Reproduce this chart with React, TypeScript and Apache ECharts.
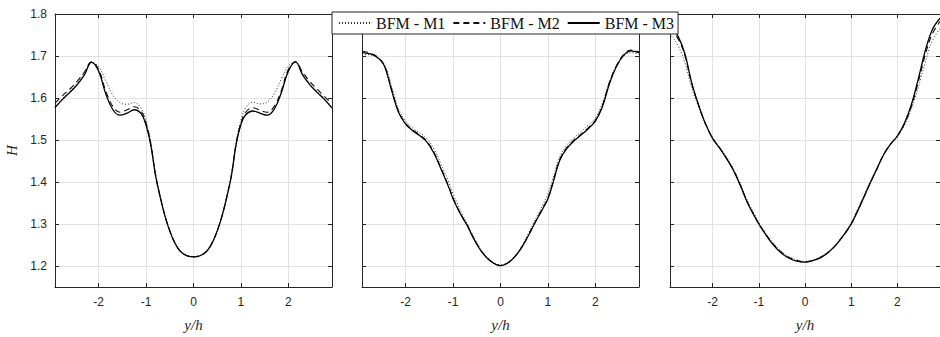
import React, { useEffect, useRef } from "react";
import * as echarts from "echarts";

// Positions along y/h (shared by all three panels)
const X = [-2.92, -2.75, -2.6, -2.45, -2.3, -2.15, -2.0, -1.85, -1.7, -1.55, -1.4, -1.25, -1.1, -1.0, -0.9, -0.8, -0.7, -0.6, -0.5, -0.4, -0.3, -0.2, -0.1, 0,
  0.1, 0.2, 0.3, 0.4, 0.5, 0.6, 0.7, 0.8, 0.9, 1.0, 1.1, 1.25, 1.4, 1.55, 1.7, 1.85, 2.0, 2.15, 2.3, 2.45, 2.6, 2.75, 2.92];

const LEGEND_NAMES = ["BFM - M1", "BFM - M2", "BFM - M3"];

// Panel 1
const P1_M1 = [1.58, 1.6, 1.618, 1.636, 1.66, 1.685, 1.675, 1.641, 1.607, 1.589, 1.585, 1.589, 1.575, 1.545, 1.495, 1.42, 1.366, 1.32, 1.285, 1.258, 1.24, 1.229, 1.224, 1.222,
  1.224, 1.229, 1.24, 1.258, 1.285, 1.32, 1.366, 1.42, 1.497, 1.547, 1.577, 1.59, 1.586, 1.59, 1.61, 1.645, 1.676, 1.685, 1.66, 1.636, 1.618, 1.6, 1.579];
const P1_M2 = [1.588, 1.607, 1.622, 1.64, 1.662, 1.686, 1.668, 1.617, 1.58, 1.566, 1.572, 1.579, 1.568, 1.54, 1.49, 1.417, 1.364, 1.319, 1.284, 1.257, 1.238, 1.228, 1.223, 1.222,
  1.223, 1.228, 1.238, 1.257, 1.284, 1.319, 1.364, 1.417, 1.492, 1.54, 1.566, 1.577, 1.571, 1.566, 1.58, 1.617, 1.668, 1.686, 1.662, 1.64, 1.622, 1.605, 1.587];
const P1_M3 = [1.577, 1.598, 1.614, 1.632, 1.655, 1.685, 1.664, 1.61, 1.572, 1.559, 1.564, 1.572, 1.562, 1.535, 1.488, 1.415, 1.363, 1.318, 1.283, 1.256, 1.238, 1.228, 1.223, 1.222,
  1.223, 1.228, 1.238, 1.256, 1.283, 1.318, 1.363, 1.415, 1.49, 1.537, 1.56, 1.569, 1.564, 1.559, 1.573, 1.612, 1.664, 1.686, 1.655, 1.632, 1.614, 1.598, 1.576];

// Panel 2
const P2_M1 = [1.704, 1.703, 1.696, 1.68, 1.63, 1.575, 1.545, 1.528, 1.517, 1.503, 1.478, 1.442, 1.402, 1.372, 1.346, 1.322, 1.3, 1.278, 1.256, 1.237, 1.223, 1.212, 1.205, 1.203,
  1.205, 1.212, 1.223, 1.238, 1.258, 1.28, 1.303, 1.325, 1.348, 1.372, 1.407, 1.46, 1.488, 1.505, 1.52, 1.535, 1.552, 1.588, 1.64, 1.678, 1.7, 1.708, 1.704];
const P2_M2 = [1.712, 1.707, 1.698, 1.678, 1.622, 1.568, 1.54, 1.524, 1.512, 1.497, 1.47, 1.432, 1.392, 1.362, 1.337, 1.316, 1.297, 1.274, 1.253, 1.235, 1.222, 1.211, 1.204, 1.201,
  1.204, 1.211, 1.222, 1.237, 1.255, 1.276, 1.298, 1.319, 1.34, 1.362, 1.397, 1.454, 1.482, 1.5, 1.514, 1.529, 1.547, 1.583, 1.638, 1.678, 1.704, 1.714, 1.71];
const P2_M3 = [1.708, 1.705, 1.697, 1.677, 1.62, 1.566, 1.538, 1.522, 1.51, 1.495, 1.468, 1.43, 1.39, 1.36, 1.336, 1.315, 1.296, 1.273, 1.252, 1.234, 1.221, 1.211, 1.204, 1.201,
  1.204, 1.211, 1.222, 1.236, 1.254, 1.275, 1.297, 1.318, 1.338, 1.36, 1.395, 1.452, 1.48, 1.498, 1.512, 1.527, 1.545, 1.58, 1.635, 1.676, 1.702, 1.712, 1.708];

// Panel 3
const P3_M1 = [1.752, 1.725, 1.685, 1.624, 1.578, 1.537, 1.506, 1.484, 1.46, 1.432, 1.397, 1.357, 1.325, 1.304, 1.287, 1.27, 1.256, 1.244, 1.234, 1.226, 1.22, 1.215, 1.212, 1.211,
  1.212, 1.215, 1.22, 1.226, 1.234, 1.244, 1.256, 1.27, 1.286, 1.304, 1.326, 1.362, 1.398, 1.432, 1.466, 1.49, 1.508, 1.535, 1.574, 1.625, 1.685, 1.735, 1.765];
const P3_M2 = [1.766, 1.742, 1.702, 1.634, 1.582, 1.538, 1.505, 1.482, 1.457, 1.429, 1.393, 1.353, 1.321, 1.301, 1.284, 1.268, 1.254, 1.242, 1.232, 1.224, 1.218, 1.214, 1.211, 1.21,
  1.211, 1.214, 1.218, 1.224, 1.232, 1.242, 1.254, 1.268, 1.283, 1.3, 1.322, 1.358, 1.395, 1.43, 1.465, 1.49, 1.51, 1.538, 1.58, 1.638, 1.702, 1.752, 1.782];
const P3_M3 = [1.774, 1.748, 1.706, 1.636, 1.583, 1.538, 1.504, 1.481, 1.456, 1.428, 1.392, 1.352, 1.32, 1.3, 1.283, 1.267, 1.252, 1.24, 1.23, 1.222, 1.216, 1.212, 1.21, 1.209,
  1.211, 1.214, 1.218, 1.224, 1.232, 1.242, 1.254, 1.268, 1.283, 1.3, 1.322, 1.358, 1.395, 1.43, 1.465, 1.49, 1.51, 1.54, 1.584, 1.645, 1.712, 1.762, 1.79];

const PANELS = [
  [P1_M1, P1_M2, P1_M3],
  [P2_M1, P2_M2, P2_M3],
  [P3_M1, P3_M2, P3_M3],
];

const X_MIN = -2.92;
const X_MAX = 2.92;
const Y_MIN = 1.15;
const Y_MAX = 1.8;

export default function App() {
  const ref = useRef<HTMLDivElement>(null);
  useEffect(() => {
    const chart = echarts.init(ref.current!, null, { renderer: "svg" });
    const axisColor = "#262626";
    const gridLefts = [55, 362, 670];
    const grids = gridLefts.map((l) => ({ left: l, top: 14, width: 277, height: 274 }));
    const xAxes: any[] = [];
    const yAxes: any[] = [];
    const series: any[] = [];
    const lineStyles = [
      { color: "#333", width: 1, type: [1, 2] },
      { color: "#111", width: 1.1, type: [6, 4] },
      { color: "#000", width: 1.3, type: "solid" },
    ];
    for (let i = 0; i < 3; i++) {
      xAxes.push({
        type: "value", gridIndex: i, min: X_MIN, max: X_MAX, splitNumber: 5, position: "bottom",
        axisLine: { show: true, onZero: false, lineStyle: { color: axisColor, width: 1 } },
        axisTick: { show: true, inside: true, length: 4, lineStyle: { color: axisColor } },
        axisLabel: { show: true, showMinLabel: false, showMaxLabel: false, color: axisColor, fontFamily: "Liberation Sans", fontSize: 12, margin: 9 },
        splitLine: { show: true, lineStyle: { color: "#e3e3e3", width: 1 } },
        name: "y/h", nameLocation: "middle", nameGap: 30,
        nameTextStyle: { fontFamily: "Liberation Serif", fontStyle: "italic", fontSize: 15, color: axisColor },
      });
      xAxes.push({
        type: "value", gridIndex: i, min: X_MIN, max: X_MAX, splitNumber: 5, position: "top",
        axisLine: { show: true, onZero: false, lineStyle: { color: axisColor, width: 1 } },
        axisTick: { show: true, inside: true, length: 4, lineStyle: { color: axisColor } },
        axisLabel: { show: false },
        splitLine: { show: false },
      });
      yAxes.push({
        type: "value", gridIndex: i, min: Y_MIN, max: Y_MAX, splitNumber: 5, position: "left",
        axisLine: { show: true, onZero: false, lineStyle: { color: axisColor, width: 1 } },
        axisTick: { show: true, inside: true, length: 4, lineStyle: { color: axisColor } },
        axisLabel: { show: i === 0, showMinLabel: false, showMaxLabel: true, color: axisColor, fontFamily: "Liberation Sans", fontSize: 12, margin: 8 },
        splitLine: { show: true, lineStyle: { color: "#e3e3e3", width: 1 } },
        name: i === 0 ? "H" : "", nameLocation: "middle", nameGap: 36, nameRotate: 90,
        nameTextStyle: { fontFamily: "Liberation Serif", fontStyle: "italic", fontSize: 15, color: axisColor },
      });
      yAxes.push({
        type: "value", gridIndex: i, min: Y_MIN, max: Y_MAX, splitNumber: 5, position: "right",
        axisLine: { show: true, onZero: false, lineStyle: { color: axisColor, width: 1 } },
        axisTick: { show: true, inside: true, length: 4, lineStyle: { color: axisColor } },
        axisLabel: { show: false },
        splitLine: { show: false },
      });
      PANELS[i].forEach((vals, k) => {
        series.push({
          type: "line", name: LEGEND_NAMES[k], xAxisIndex: 2 * i, yAxisIndex: 2 * i,
          data: X.map((x, j) => [x, vals[j]]),
          smooth: 0.4, showSymbol: false, symbol: "none",
          lineStyle: lineStyles[k], itemStyle: { color: lineStyles[k].color },
          z: 3 + k,
        });
      });
    }
    chart.setOption({
      animation: false,
      backgroundColor: "#fff",
      grid: grids,
      xAxis: xAxes,
      yAxis: yAxes,
      series,
      legend: {
        data: LEGEND_NAMES, left: 332, top: 12, orient: "horizontal",
        itemWidth: 32, itemHeight: 12, itemGap: 7,
        padding: [3, 4, 3, 6],
        borderColor: "#262626", borderWidth: 1, backgroundColor: "#fff",
        itemStyle: { opacity: 0, color: "rgba(0,0,0,0)", borderWidth: 0 },
        textStyle: { fontFamily: "Liberation Serif", fontSize: 16, color: "#111" },
        selectedMode: false, z: 10,
      },
    });
    return () => chart.dispose();
  }, []);
  return (
    <div
      ref={ref}
      style={{ position: "absolute", left: 0, top: 0, width: 940, height: 337, background: "#fff", overflow: "hidden" }}
    />
  );
}
